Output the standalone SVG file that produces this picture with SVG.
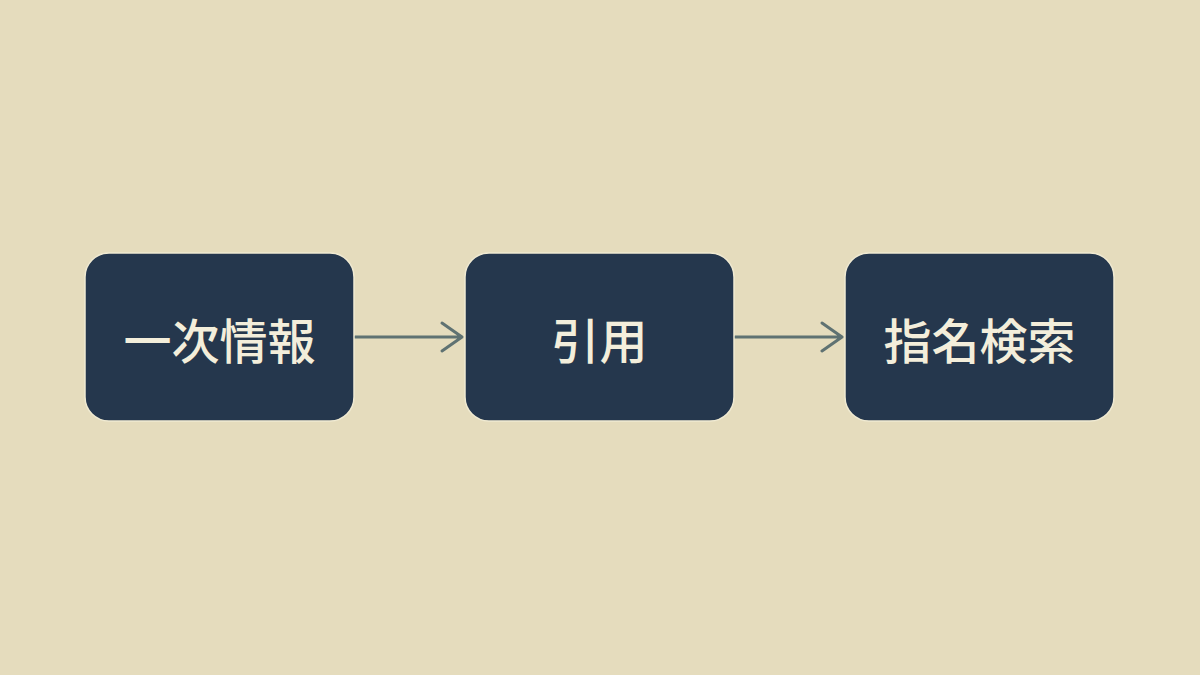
<svg xmlns="http://www.w3.org/2000/svg" width="1200" height="675" viewBox="0 0 1200 675">
<defs>
<style>
.node rect{fill:#25374d;stroke:#f0ead2;stroke-width:1.5}
.node text{fill:#f3eedb;font-family:"Noto Sans CJK JP","Noto Sans CJK SC",sans-serif;font-size:48px;font-weight:500;text-anchor:middle;dominant-baseline:central}
.edge{stroke:#5f7272;stroke-width:3;fill:none;stroke-linecap:round;stroke-linejoin:round}
</style>
</defs>
<rect width="1200" height="675" fill="#e5dcbd"/>
<g id="connectors">
<path class="edge" d="M355 337 H462 M442 323 L462 337 L442 351"/>
<path class="edge" d="M735 337 H842 M822 323 L842 337 L822 351"/>
</g>
<g id="node1" class="node"><rect x="85" y="253" width="269" height="168" rx="24"/><text x="219.5" y="338">一次情報</text></g>
<g id="node2" class="node"><rect x="465" y="253" width="269" height="168" rx="24"/><text x="599.5" y="338">引用</text></g>
<g id="node3" class="node"><rect x="845" y="253" width="269" height="168" rx="24"/><text x="979.5" y="338">指名検索</text></g>
</svg>
